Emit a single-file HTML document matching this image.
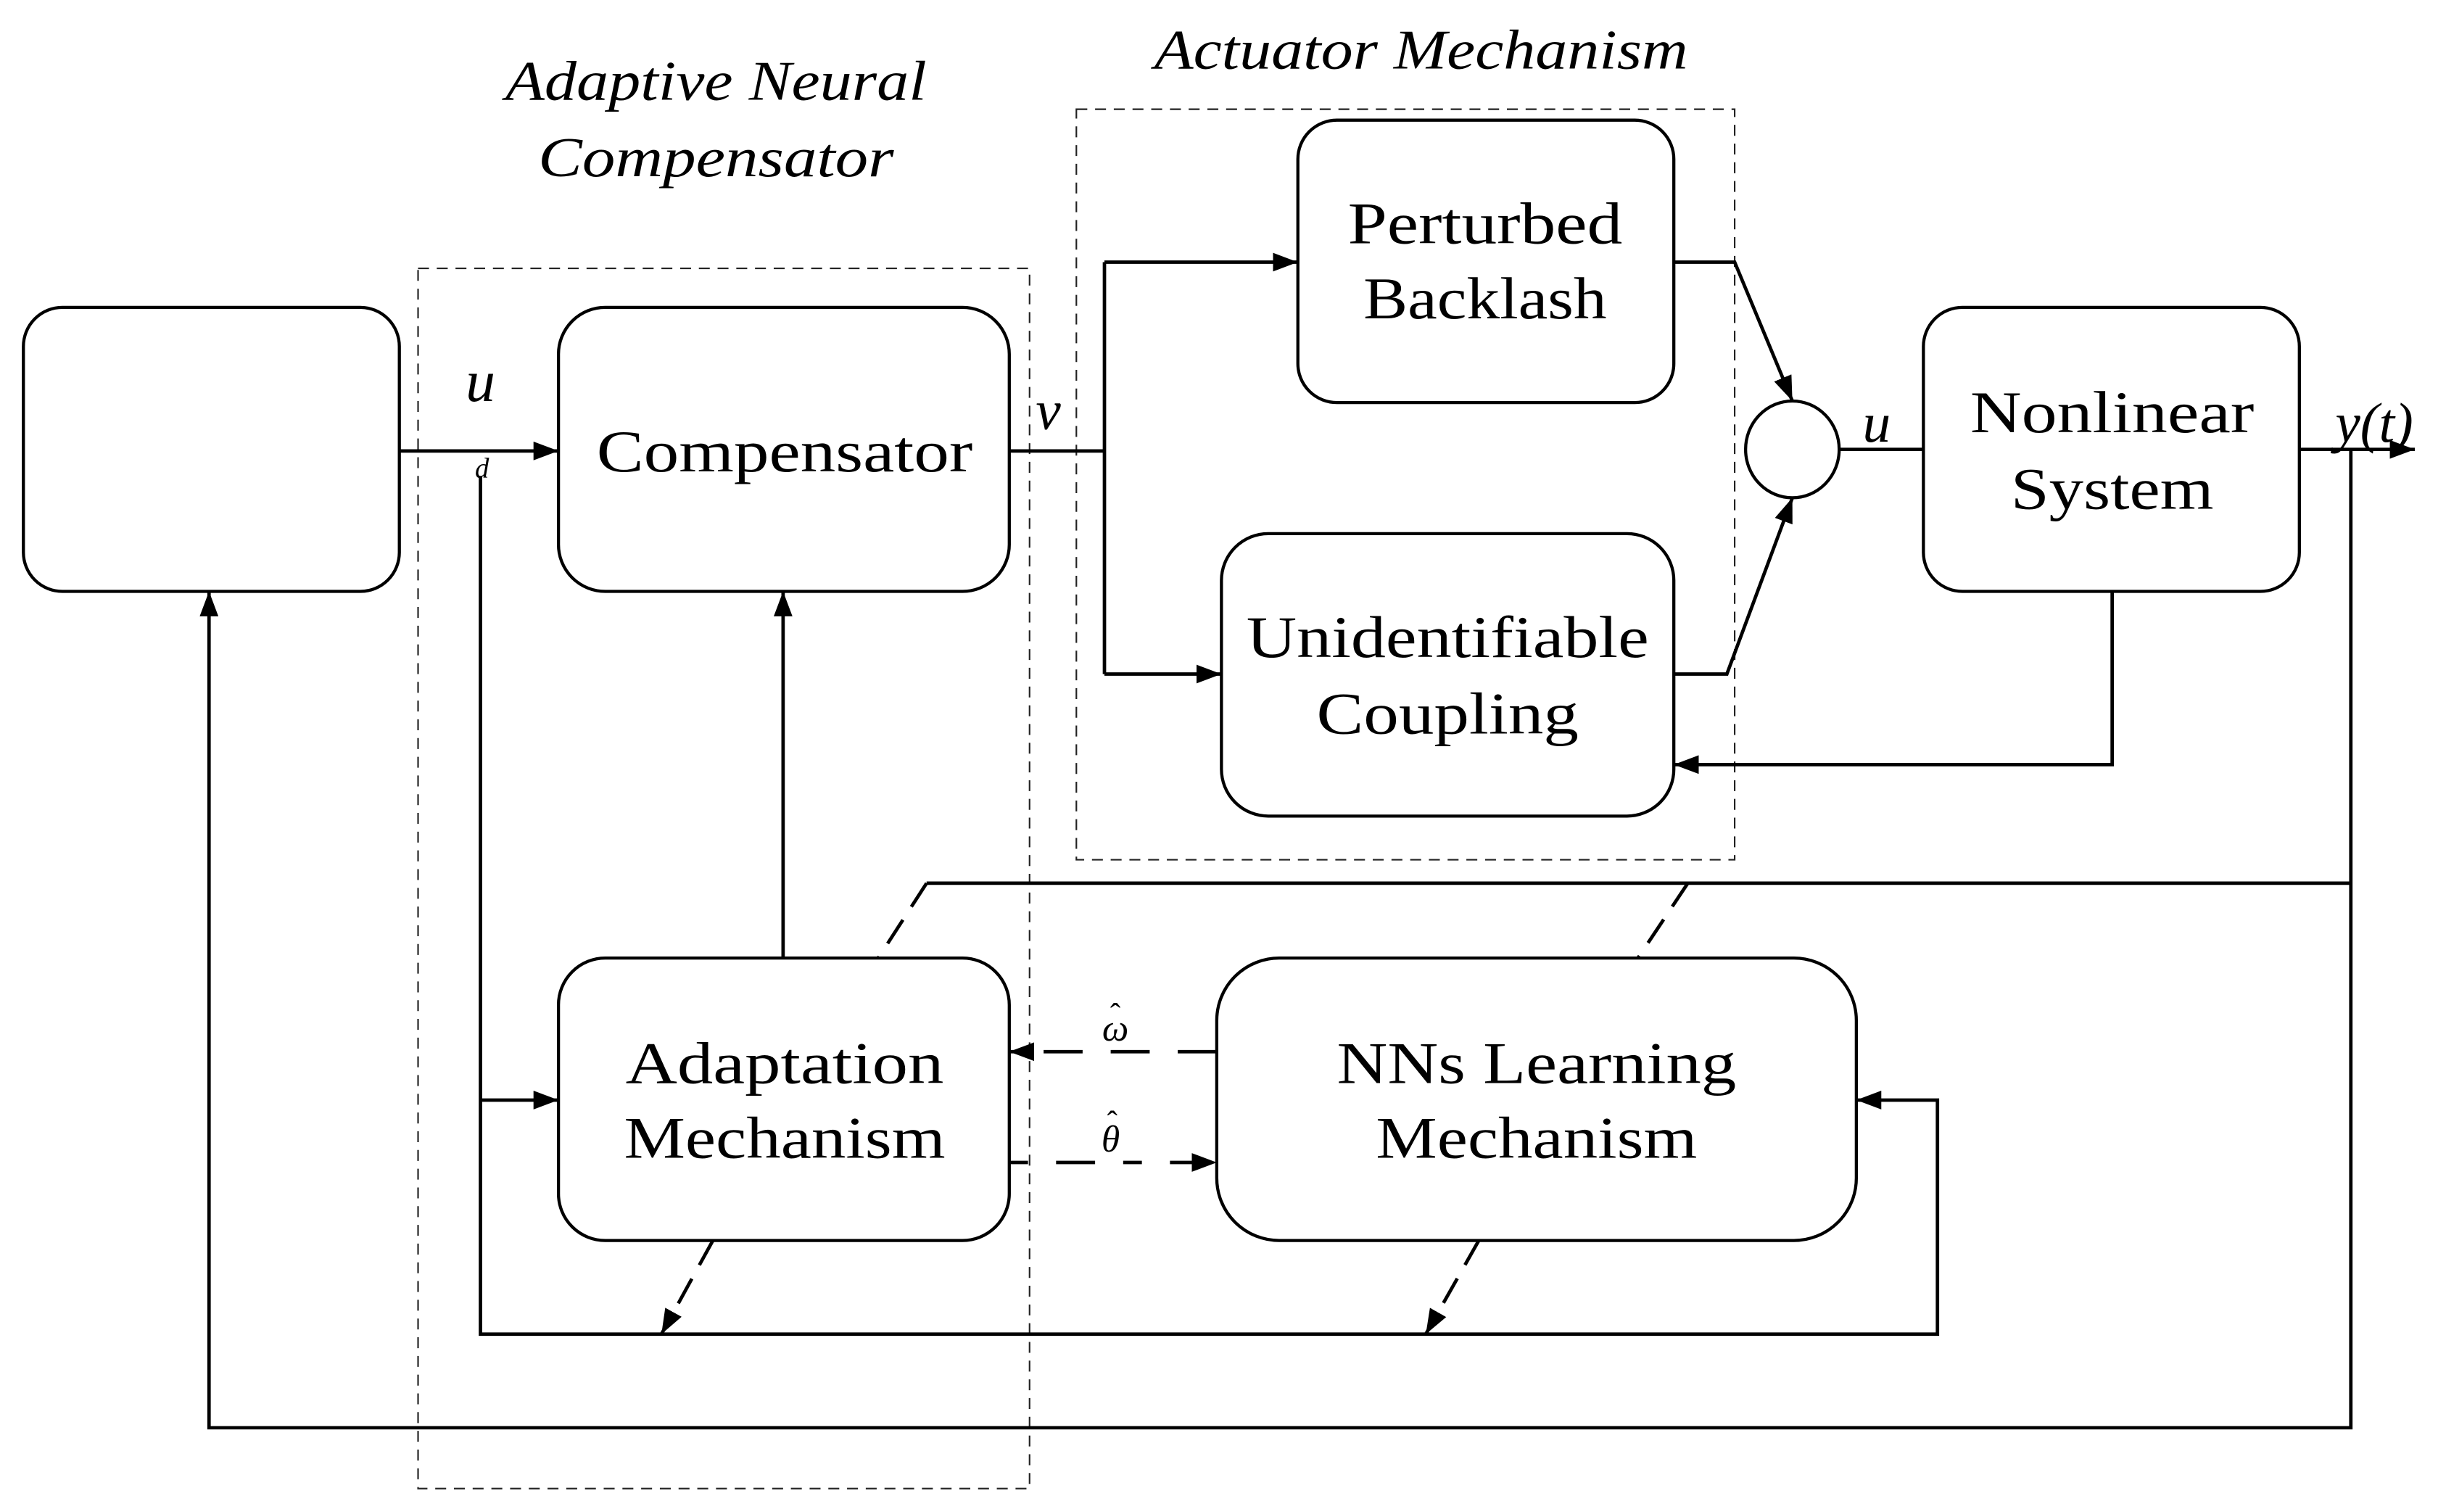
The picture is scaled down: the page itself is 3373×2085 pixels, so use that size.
<!DOCTYPE html>
<html><head><meta charset="utf-8"><style>html,body{margin:0;padding:0;background:#fff}svg{display:block}</style></head>
<body>
<svg width="3373" height="2085" viewBox="0 0 1568 969" preserveAspectRatio="none" xmlns="http://www.w3.org/2000/svg" font-family="Liberation Serif, serif">
<defs>
<marker id="b" viewBox="0 0 10 10" refX="10" refY="5" markerWidth="16" markerHeight="12" markerUnits="userSpaceOnUse" orient="auto" preserveAspectRatio="none"><path d="M0,0 L10,5 L0,10 z" fill="#000"/></marker>
</defs>
<g fill="none" stroke="#222" stroke-width="1" stroke-dasharray="7,5">
<rect x="268" y="172" width="392" height="782"/>
<rect x="690" y="70" width="422" height="481"/>
</g>
<g fill="#fff" stroke="#000" stroke-width="2">
<rect x="15" y="197" width="241" height="182" rx="25"/>
<rect x="358" y="197" width="289" height="182" rx="30"/>
<rect x="832" y="77" width="241" height="181" rx="25"/>
<rect x="783" y="342" width="290" height="181" rx="30"/>
<rect x="1233" y="197" width="241" height="182" rx="25"/>
<rect x="358" y="614" width="289" height="181" rx="30"/>
<rect x="780" y="614" width="410" height="181" rx="40"/>
<ellipse cx="1149" cy="288" rx="30" ry="31"/>
</g>
<g fill="none" stroke="#000" stroke-width="2.2">
<path d="M256,289 H358" marker-end="url(#b)"/>
<path d="M647,289 H708"/>
<path d="M708,168 V432"/>
<path d="M708,168 H832" marker-end="url(#b)"/>
<path d="M708,432 H783" marker-end="url(#b)"/>
<path d="M1073,168 H1112 L1149,257" marker-end="url(#b)"/>
<path d="M1073,432 H1107 L1149,319" marker-end="url(#b)"/>
<path d="M1179,288 H1233"/>
<path d="M1474,288 H1548" marker-end="url(#b)"/>
<path d="M1507,288 V915 H134 V379" marker-end="url(#b)"/>
<path d="M1354,379 V490 H1073" marker-end="url(#b)"/>
<path d="M502,614 V379" marker-end="url(#b)"/>
<path d="M308,305 V855 H1242 V705 H1190" marker-end="url(#b)"/>
<path d="M308,705 H358" marker-end="url(#b)"/>
<path d="M1507,566 H594"/>
<path d="M594,566 L563,614" stroke-dasharray="18,10"/>
<path d="M1082,566 L1050,614" stroke-dasharray="18,10"/>
<path d="M780,674 H647" stroke-dasharray="25,18" marker-end="url(#b)"/>
<path d="M647,745 H780" stroke-dasharray="12,18,25,18" marker-end="url(#b)"/>
<path d="M457,795 L424,855" stroke-dasharray="18,10" marker-end="url(#b)"/>
<path d="M948,795 L914,855" stroke-dasharray="18,10" marker-end="url(#b)"/>
</g>
<g font-size="38" text-anchor="middle" fill="#000">
<text x="503" y="302" textLength="241" lengthAdjust="spacingAndGlyphs">Compensator</text>
<text x="952" y="156" textLength="176" lengthAdjust="spacingAndGlyphs">Perturbed</text>
<text x="952" y="204" textLength="156" lengthAdjust="spacingAndGlyphs">Backlash</text>
<text x="928" y="421" textLength="258" lengthAdjust="spacingAndGlyphs">Unidentifiable</text>
<text x="928" y="470" textLength="168" lengthAdjust="spacingAndGlyphs">Coupling</text>
<text x="1354" y="277" textLength="182" lengthAdjust="spacingAndGlyphs">Nonlinear</text>
<text x="1354" y="326" textLength="130" lengthAdjust="spacingAndGlyphs">System</text>
<text x="503" y="694" textLength="204" lengthAdjust="spacingAndGlyphs">Adaptation</text>
<text x="503" y="742" textLength="206" lengthAdjust="spacingAndGlyphs">Mechanism</text>
<text x="985" y="694" textLength="256" lengthAdjust="spacingAndGlyphs">NNs Learning</text>
<text x="985" y="742" textLength="206" lengthAdjust="spacingAndGlyphs">Mechanism</text>
</g>
<g font-size="36" font-style="italic" text-anchor="middle" fill="#000">
<text x="459" y="64" textLength="270" lengthAdjust="spacingAndGlyphs">Adaptive Neural</text>
<text x="459" y="113" textLength="228" lengthAdjust="spacingAndGlyphs">Compensator</text>
<text x="911" y="44" textLength="342" lengthAdjust="spacingAndGlyphs">Actuator Mechanism</text>
</g>
<g font-style="italic" fill="#000" text-anchor="middle">
<text x="308" y="257" font-size="38">u</text>
<text x="309" y="306" font-size="18">d</text>
<text x="672" y="275" font-size="36">v</text>
<text x="1203" y="283" font-size="36">u</text>
<text x="1522" y="283" font-size="36">y(t)</text>
<text x="715" y="667" font-size="24">ω</text>
<text x="715" y="657" font-size="20" font-style="normal">ˆ</text>
<text x="712" y="738" font-size="24">θ</text>
<text x="713" y="726" font-size="20" font-style="normal">ˆ</text>
</g>
</svg>
</body></html>
